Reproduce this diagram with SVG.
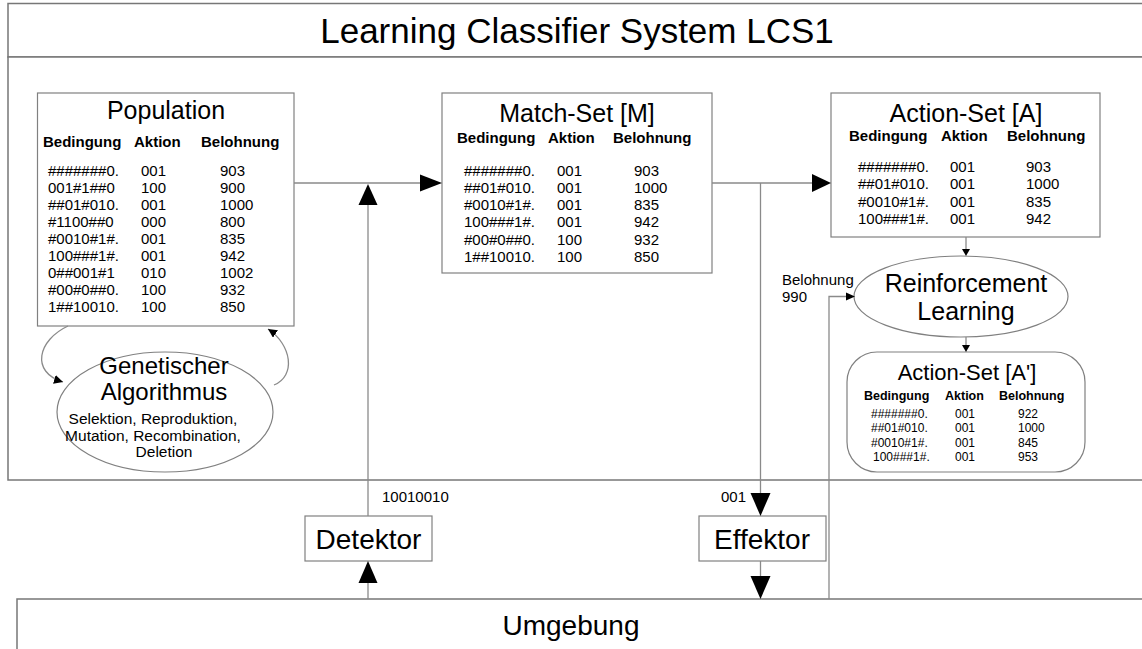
<svg xmlns="http://www.w3.org/2000/svg" width="1142" height="649" viewBox="0 0 1142 649">
  <style>
    text { font-family: "Liberation Sans", Arial, sans-serif; fill: #000; }
    .frame { fill: #fff; stroke: #777; stroke-width: 1.5; }
    .box { fill: #fff; stroke: #808080; stroke-width: 1.2; }
    .wire { fill: none; stroke: #8a8a8a; stroke-width: 1.3; }
    .head { fill: #000; }
    .title { font-size: 35px; text-anchor: middle; }
    .big { font-size: 25px; text-anchor: middle; }
    .hdr { font-size: 15px; font-weight: bold; }
    .row { font-size: 15px; }
    .shdr { font-size: 12.5px; font-weight: bold; }
    .srow { font-size: 12px; }
    .lbl { font-size: 15px; }
    .io { font-size: 28px; text-anchor: middle; }
    .mid { text-anchor: middle; }
  </style>
  <defs>
    <marker id="tip" viewBox="0 0 10 10" refX="10" refY="5" markerWidth="9" markerHeight="9" markerUnits="userSpaceOnUse" orient="auto">
      <path d="M0,0 L10,5 L0,10 Z" fill="#000"/>
    </marker>
  </defs>

  <!-- frames -->
  <g id="frame-title">
    <rect class="frame" x="8" y="3.5" width="1150" height="53.5"/>
    <text class="title" x="577" y="42.5">Learning Classifier System LCS1</text>
  </g>
  <g id="frame-system">
    <rect class="frame" x="8" y="57" width="1150" height="423"/>
  </g>
  <g id="frame-environment">
    <rect class="frame" x="17" y="599" width="1150" height="60"/>
    <text class="io" x="571" y="635">Umgebung</text>
  </g>

  <!-- Population -->
  <g id="population">
    <rect class="box" x="37.5" y="93" width="256.5" height="233"/>
    <text class="big" x="166" y="119">Population</text>
    <text class="hdr" x="43" y="147">Bedingung</text>
    <text class="hdr" x="134" y="147">Aktion</text>
    <text class="hdr" x="201" y="147">Belohnung</text>
    <g class="row">
      <text x="48" y="175.5">#######0.</text><text x="141" y="175.5">001</text><text x="220" y="175.5">903</text>
      <text x="48" y="192.5">001#1##0</text><text x="141" y="192.5">100</text><text x="220" y="192.5">900</text>
      <text x="48" y="209.5">##01#010.</text><text x="141" y="209.5">001</text><text x="220" y="209.5">1000</text>
      <text x="48" y="226.5">#1100##0</text><text x="141" y="226.5">000</text><text x="220" y="226.5">800</text>
      <text x="48" y="243.5">#0010#1#.</text><text x="141" y="243.5">001</text><text x="220" y="243.5">835</text>
      <text x="48" y="260.5">100###1#.</text><text x="141" y="260.5">001</text><text x="220" y="260.5">942</text>
      <text x="48" y="277.5">0##001#1</text><text x="141" y="277.5">010</text><text x="220" y="277.5">1002</text>
      <text x="48" y="294.5">#00#0##0.</text><text x="141" y="294.5">100</text><text x="220" y="294.5">932</text>
      <text x="48" y="311.5">1##10010.</text><text x="141" y="311.5">100</text><text x="220" y="311.5">850</text>
    </g>
  </g>

  <!-- Genetic algorithm -->
  <g id="genetic-algorithm">
    <ellipse class="box" cx="165" cy="412" rx="108" ry="60"/>
    <text class="mid" font-size="24" x="164" y="373.5">Genetischer</text>
    <text class="mid" font-size="24" x="164" y="399.5">Algorithmus</text>
    <text class="mid" font-size="15.5" x="153" y="423.5">Selektion, Reproduktion,</text>
    <text class="mid" font-size="15.5" x="153" y="440.5">Mutation, Recombination,</text>
    <text class="mid" font-size="15.5" x="164" y="457">Deletion</text>
  </g>

  <!-- Match set -->
  <g id="match-set">
    <rect class="box" x="442" y="93" width="270" height="180"/>
    <text class="big" x="577" y="122">Match-Set [M]</text>
    <text class="hdr" x="457" y="143">Bedingung</text>
    <text class="hdr" x="548" y="143">Aktion</text>
    <text class="hdr" x="613" y="143">Belohnung</text>
    <g class="row">
      <text x="464" y="175.5">#######0.</text><text x="557" y="175.5">001</text><text x="634" y="175.5">903</text>
      <text x="464" y="192.8">##01#010.</text><text x="557" y="192.8">001</text><text x="634" y="192.8">1000</text>
      <text x="464" y="210.1">#0010#1#.</text><text x="557" y="210.1">001</text><text x="634" y="210.1">835</text>
      <text x="464" y="227.4">100###1#.</text><text x="557" y="227.4">001</text><text x="634" y="227.4">942</text>
      <text x="464" y="244.7">#00#0##0.</text><text x="557" y="244.7">100</text><text x="634" y="244.7">932</text>
      <text x="464" y="262">1##10010.</text><text x="557" y="262">100</text><text x="634" y="262">850</text>
    </g>
  </g>

  <!-- Action set -->
  <g id="action-set">
    <rect class="box" x="831" y="93" width="269" height="144"/>
    <text class="big" x="966" y="122">Action-Set [A]</text>
    <text class="hdr" x="849" y="141">Bedingung</text>
    <text class="hdr" x="941" y="141">Aktion</text>
    <text class="hdr" x="1007" y="141">Belohnung</text>
    <g class="row">
      <text x="858" y="171.5">#######0.</text><text x="950" y="171.5">001</text><text x="1026" y="171.5">903</text>
      <text x="858" y="189">##01#010.</text><text x="950" y="189">001</text><text x="1026" y="189">1000</text>
      <text x="858" y="206.5">#0010#1#.</text><text x="950" y="206.5">001</text><text x="1026" y="206.5">835</text>
      <text x="858" y="224">100###1#.</text><text x="950" y="224">001</text><text x="1026" y="224">942</text>
    </g>
  </g>

  <!-- Reinforcement learning -->
  <g id="reinforcement-learning">
    <ellipse class="box" cx="961" cy="296.5" rx="107" ry="40.5"/>
    <text class="big" x="966" y="292">Reinforcement</text>
    <text class="big" x="966" y="320">Learning</text>
  </g>

  <!-- Updated action set -->
  <g id="action-set-updated">
    <rect class="box" x="847" y="352" width="238" height="120" rx="30" ry="30"/>
    <text class="mid" font-size="22" x="967" y="380">Action-Set [A']</text>
    <text class="shdr" x="864" y="399.5">Bedingung</text>
    <text class="shdr" x="945" y="399.5">Aktion</text>
    <text class="shdr" x="999" y="399.5">Belohnung</text>
    <g class="srow">
      <text x="871" y="417.5">#######0.</text><text x="955" y="417.5">001</text><text x="1018" y="417.5">922</text>
      <text x="871" y="432">##01#010.</text><text x="955" y="432">001</text><text x="1018" y="432">1000</text>
      <text x="871" y="446.5">#0010#1#.</text><text x="955" y="446.5">001</text><text x="1018" y="446.5">845</text>
      <text x="873" y="461">100###1#.</text><text x="955" y="461">001</text><text x="1018" y="461">953</text>
    </g>
  </g>

  <!-- Detector / effector -->
  <g id="detektor">
    <rect class="box" x="305" y="516" width="127" height="45"/>
    <text class="io" x="368.5" y="549">Detektor</text>
  </g>
  <g id="effektor">
    <rect class="box" x="699" y="516" width="127" height="45"/>
    <text class="io" x="762" y="549">Effektor</text>
  </g>

  <!-- connectors -->
  <g id="connectors">
    <!-- population -> match set -->
    <line class="wire" x1="294" y1="183" x2="421" y2="183"/>
    <polygon class="head" points="442,183 420,174.5 420,191.5"/>
    <!-- detector -> match input -->
    <line class="wire" x1="368" y1="516" x2="368" y2="204"/>
    <polygon class="head" points="368,184 358.5,205 377.5,205"/>
    <!-- match set -> action set -->
    <line class="wire" x1="712" y1="183" x2="813" y2="183"/>
    <polygon class="head" points="831,183 812,174 812,192"/>
    <!-- action output -> effector -->
    <line class="wire" x1="760.5" y1="183" x2="760.5" y2="494"/>
    <polygon class="head" points="760.5,516 750.5,493 770.5,493"/>
    <!-- action set -> reinforcement learning -->
    <line class="wire" x1="966" y1="237" x2="966" y2="250"/>
    <polygon class="head" points="966,256 962,249 970,249"/>
    <!-- reinforcement learning -> updated set -->
    <line class="wire" x1="966" y1="337" x2="966" y2="346"/>
    <polygon class="head" points="966,352 962,345 970,345"/>
    <!-- reward from environment -->
    <polyline class="wire" points="829,599 829,296.5 847,296.5"/>
    <polygon class="head" points="855,296.5 846,292.5 846,300.5"/>
    <text class="lbl" x="782" y="285">Belohnung</text>
    <text class="lbl" x="782" y="302">990</text>
    <!-- environment -> detector -->
    <line class="wire" x1="368" y1="599" x2="368" y2="582"/>
    <polygon class="head" points="368,561 358.5,583 377.5,583"/>
    <text class="lbl" x="382" y="501.5">10010010</text>
    <!-- effector -> environment -->
    <line class="wire" x1="760.5" y1="561" x2="760.5" y2="577"/>
    <polygon class="head" points="760.5,599 750.5,576 770.5,576"/>
    <text class="lbl" x="721" y="501.5">001</text>
    <!-- genetic algorithm loop -->
    <path class="wire" d="M68,326 C38,340 30,372 63,382" marker-end="url(#tip)"/>
    <path class="wire" d="M274,385 C296,376 292,345 268,329" marker-end="url(#tip)"/>
  </g>
</svg>
